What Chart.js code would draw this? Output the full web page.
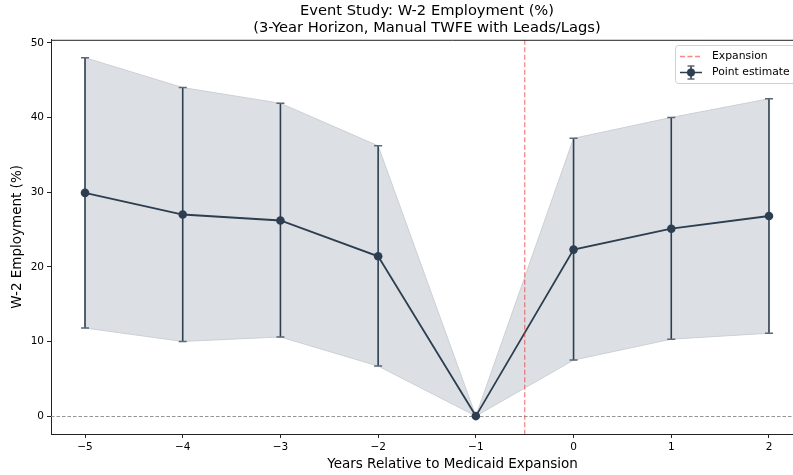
<!DOCTYPE html>
<html>
<head>
<meta charset="utf-8">
<title>Event Study: W-2 Employment</title>
<script src="https://cdn.jsdelivr.net/npm/chart.js@4.4.1/dist/chart.umd.min.js"></script>
<style>
  html, body { margin: 0; padding: 0; background: #fff; overflow: hidden; }
  #wrap { width: 854px; height: 475px; }
</style>
</head>
<body>
<div id="wrap"><canvas id="eventChart" width="854" height="475"></canvas></div>
<script>
// Event time relative to expansion, estimates and 95% CI bounds
const eventYears = [-5, -4, -3, -2, -1, 0, 1, 2];
const estimates  = [29.9, 27.0, 26.2, 21.4, 0.0, 22.3, 25.1, 26.8];
const ciLower    = [11.8, 10.0, 10.6, 6.7, 0.0, 7.5, 10.3, 11.1];
const ciUpper    = [48.0, 44.0, 41.9, 36.2, 0.0, 37.2, 40.0, 42.5];
const yTicks     = [0, 10, 20, 30, 40, 50];
const expansionAt = -0.5;

const navy = '#2c3e50';
const capColor = '#5a6878';
const expansionColor = 'rgba(240, 50, 50, 0.58)';
const fontFamily = "'DejaVu Sans', sans-serif";

const toPoints = arr => arr.map((v, i) => ({ x: eventYears[i], y: v }));

// reference lines, error bars, top spine and legend
const extras = {
  id: 'extras',
  afterDatasetsDraw(chart) {
    const { ctx, chartArea: a, scales: { x, y } } = chart;
    ctx.save();
    // zero line
    ctx.strokeStyle = '#888';
    ctx.lineWidth = 0.9;
    ctx.setLineDash([3.5, 2]);
    const zy = Math.round(y.getPixelForValue(0)) + 0.5;
    ctx.beginPath();
    ctx.moveTo(a.left, zy);
    ctx.lineTo(a.right, zy);
    ctx.stroke();
    // expansion line
    ctx.strokeStyle = expansionColor;
    ctx.lineWidth = 1.3;
    ctx.setLineDash([5, 2.5]);
    const ex = x.getPixelForValue(expansionAt);
    ctx.beginPath();
    ctx.moveTo(ex, a.top);
    ctx.lineTo(ex, a.bottom);
    ctx.stroke();
    ctx.setLineDash([]);
    // error bars
    eventYears.forEach((yr, i) => {
      const px = x.getPixelForValue(yr);
      const lo = y.getPixelForValue(ciLower[i]);
      const hi = y.getPixelForValue(ciUpper[i]);
      ctx.strokeStyle = navy;
      ctx.lineWidth = 1.6;
      ctx.beginPath();
      ctx.moveTo(px, lo);
      ctx.lineTo(px, hi);
      ctx.stroke();
      ctx.strokeStyle = capColor;
      ctx.lineWidth = 1.5;
      ctx.beginPath();
      ctx.moveTo(px - 4, lo); ctx.lineTo(px + 4, lo);
      ctx.moveTo(px - 4, hi); ctx.lineTo(px + 4, hi);
      ctx.stroke();
    });
    // markers on top of the bars
    eventYears.forEach((yr, i) => {
      ctx.fillStyle = navy;
      ctx.beginPath();
      ctx.arc(x.getPixelForValue(yr), y.getPixelForValue(estimates[i]), 4.3, 0, Math.PI * 2);
      ctx.fill();
    });
    ctx.restore();
  },
  afterDraw(chart) {
    const { ctx, chartArea: a } = chart;
    ctx.save();
    // top spine
    ctx.strokeStyle = '#222';
    ctx.lineWidth = 1;
    ctx.beginPath();
    ctx.moveTo(a.left, a.top + 0.5);
    ctx.lineTo(a.right, a.top + 0.5);
    ctx.stroke();

    // legend box
    const bx = 675, by = 45, bw = 126, bh = 38;
    ctx.fillStyle = 'rgba(255,255,255,0.8)';
    ctx.strokeStyle = '#d0d0d0';
    ctx.lineWidth = 1;
    ctx.beginPath();
    ctx.roundRect(bx + 0.5, by + 0.5, bw, bh, 3);
    ctx.fill();
    ctx.stroke();

    ctx.font = '10.8px ' + fontFamily;
    ctx.fillStyle = '#000';
    ctx.textBaseline = 'middle';
    // expansion entry
    ctx.strokeStyle = expansionColor;
    ctx.lineWidth = 1.3;
    ctx.setLineDash([5, 2.5]);
    ctx.beginPath();
    ctx.moveTo(680, 56.5); ctx.lineTo(702, 56.5);
    ctx.stroke();
    ctx.setLineDash([]);
    ctx.fillText('Expansion', 712, 56);
    // point estimate entry
    ctx.strokeStyle = navy;
    ctx.lineWidth = 1.6;
    ctx.beginPath();
    ctx.moveTo(680, 72.5); ctx.lineTo(702, 72.5);
    ctx.moveTo(691, 66); ctx.lineTo(691, 79);
    ctx.stroke();
    ctx.strokeStyle = capColor;
    ctx.beginPath();
    ctx.moveTo(687.5, 66); ctx.lineTo(694.5, 66);
    ctx.moveTo(687.5, 79); ctx.lineTo(694.5, 79);
    ctx.stroke();
    ctx.fillStyle = navy;
    ctx.beginPath();
    ctx.arc(691, 72.5, 4, 0, Math.PI * 2);
    ctx.fill();
    ctx.fillStyle = '#000';
    ctx.fillText('Point estimate', 712, 72);
    ctx.restore();
  }
};

const ctx = document.getElementById('eventChart').getContext('2d');
const chart = new Chart(ctx, {
  type: 'line',
  data: {
    datasets: [
      {
        label: 'Upper CI',
        data: toPoints(ciUpper),
        borderColor: '#cbd0d5',
        borderWidth: 1,
        backgroundColor: 'rgba(168, 176, 184, 0.4)',
        pointRadius: 0,
        fill: '+1',
        order: 3
      },
      {
        label: 'Lower CI',
        data: toPoints(ciLower),
        borderColor: '#cbd0d5',
        borderWidth: 1,
        pointRadius: 0,
        fill: false,
        order: 2
      },
      {
        label: 'Point estimate',
        data: toPoints(estimates),
        borderColor: navy,
        borderWidth: 1.8,
        pointRadius: 0,
        fill: false,
        order: 1
      }
    ]
  },
  options: {
    responsive: false,
    animation: false,
    layout: { padding: 0 },
    plugins: {
      legend: { display: false },
      tooltip: { enabled: false },
      title: {
        display: true,
        text: ['Event Study: W-2 Employment (%)', '(3-Year Horizon, Manual TWFE with Leads/Lags)'],
        color: '#000',
        font: { family: fontFamily, size: 14.7, weight: 'normal', lineHeight: 1.15 },
        padding: { top: 3, bottom: 3 }
      }
    },
    scales: {
      x: {
        type: 'linear',
        min: -5.348,
        max: 2.87,
        afterBuildTicks: s => { s.ticks = eventYears.map(v => ({ value: v })); },
        afterFit: s => { s.height = 41; },
        ticks: {
          color: '#000',
          padding: 3,
          font: { family: fontFamily, size: 10.5 },
          callback: v => (v < 0 ? '\u2212' + Math.abs(v) : String(v))
        },
        grid: { drawOnChartArea: false, tickLength: 4, tickColor: '#222' },
        border: { display: true, color: '#222', width: 1 },
        title: {
          display: true,
          text: 'Years Relative to Medicaid Expansion',
          color: '#000',
          font: { family: fontFamily, size: 13.5 },
          padding: { top: 1, bottom: 2 }
        }
      },
      y: {
        min: -2.4,
        max: 50.4,
        afterBuildTicks: s => { s.ticks = yTicks.map(v => ({ value: v })); },
        afterFit: s => { s.width = 51; },
        ticks: {
          color: '#000',
          padding: 3,
          font: { family: fontFamily, size: 10.5 }
        },
        grid: { drawOnChartArea: false, tickLength: 4, tickColor: '#222' },
        border: { display: true, color: '#222', width: 1 },
        title: {
          display: true,
          text: 'W-2 Employment (%)',
          color: '#000',
          font: { family: fontFamily, size: 13.5 },
          padding: { top: 9, bottom: 4 }
        }
      }
    }
  },
  plugins: [extras]
});
</script>
</body>
</html>
